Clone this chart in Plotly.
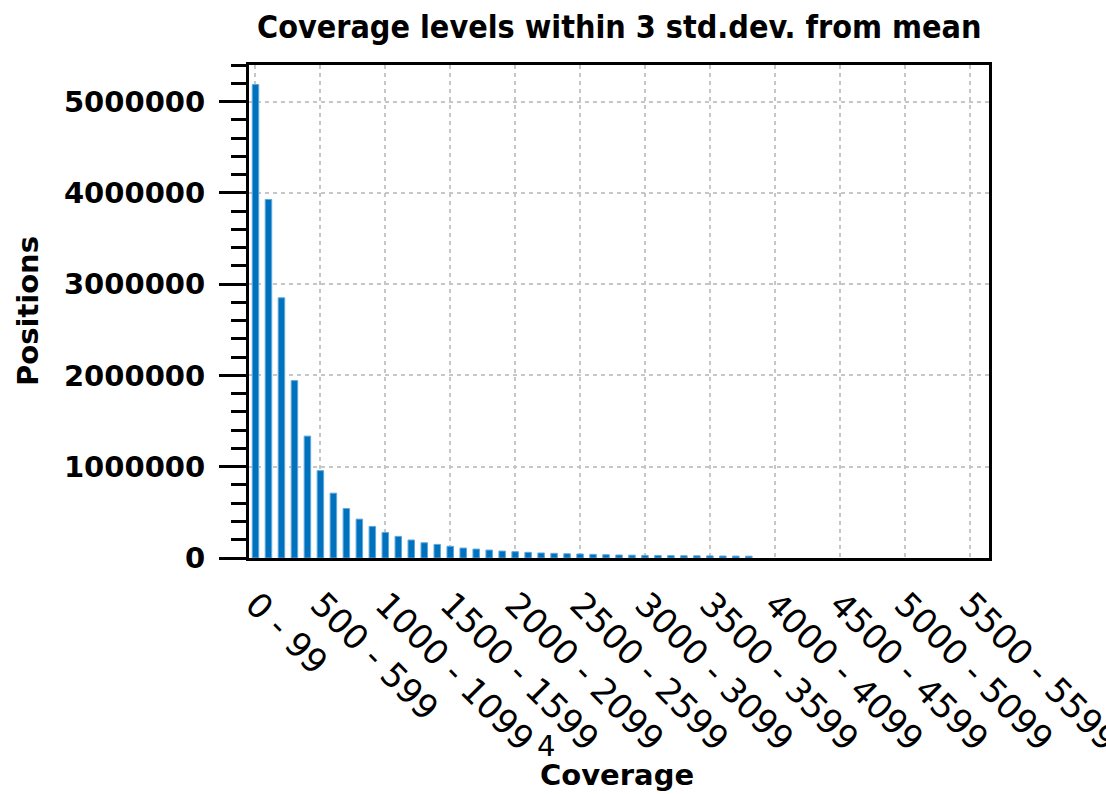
import plotly.graph_objects as go

# Coverage bins (0 - 99, 100 - 199, ... 5600 - 5699)
categories = [f"{i*100} - {i*100+99}" for i in range(57)]
positions = [
    5186000, 3927000, 2850000, 1943000, 1335000, 957000, 710000, 542000, 426000, 346000,
    280000, 237000, 197000, 167000, 149000, 128000, 109000, 98000, 87000, 76000,
    69000, 62000, 55000, 51000, 47000, 44000, 40000, 36000, 33000, 31000,
    29000, 28000, 26000, 25000, 24000, 23000, 22000, 21000, 20000,
]
bar_bins = categories[:len(positions)]
tick_labels = categories[::5]
y_ticks = [0, 1000000, 2000000, 3000000, 4000000, 5000000]

L, R, T, B = 249, 989, 65, 558
W, H = 1106, 794

def px(x):
    return (x - L) / (R - L)

def py(y):
    return (B - y) / (B - T)

fig = go.Figure()
fig.add_trace(go.Bar(
    x=bar_bins, y=positions, width=0.5,
    marker=dict(color="#0072BD", line=dict(color="#5fa8dc", width=1)),
))

grid = dict(showgrid=True, gridcolor="#c6c6c6", gridwidth=2, griddash="4px,4px")
fig.update_layout(
    width=W, height=H,
    margin=dict(l=L, r=W - R, t=T, b=H - B, autoexpand=False),
    plot_bgcolor="white", paper_bgcolor="white",
    showlegend=False,
    font=dict(family="DejaVu Sans", color="black"),
)
fig.update_xaxes(
    type="category", categoryorder="array", categoryarray=categories,
    range=[-0.5, 56.5], automargin=False,
    tickmode="array", tickvals=tick_labels, ticktext=tick_labels,
    tickangle=45, tickfont=dict(size=34, family="DejaVu Sans"),
    ticklabelstandoff=10,
    ticks="", **grid,
    showline=True, linecolor="black", linewidth=3, mirror=True,
)
fig.update_yaxes(
    range=[0, 5400000], tickmode="array", automargin=False,
    tickvals=y_ticks, ticktext=[str(v) for v in y_ticks],
    tickfont=dict(size=29, family="DejaVu Sans", weight="bold"),
    ticks="outside", ticklen=27, tickwidth=3, tickcolor="black",
    ticklabelstandoff=8,
    minor=dict(dtick=200000, tick0=0, ticks="outside", ticklen=15, tickwidth=3,
               tickcolor="black", showgrid=False),
    **grid,
    zeroline=False,
    showline=True, linecolor="black", linewidth=3, mirror=True,
)

fig.add_annotation(text="<b>Coverage levels within 3 std.dev. from mean</b>",
                   xref="paper", yref="paper", x=px(619), y=py(27),
                   showarrow=False, font=dict(size=32, family="DejaVu Sans Condensed"),
                   xanchor="center", yanchor="middle")
fig.add_annotation(text="<b>Coverage</b>", xref="paper", yref="paper",
                   x=px(617), y=py(775), showarrow=False,
                   font=dict(size=29, family="DejaVu Sans"),
                   xanchor="center", yanchor="middle")
fig.add_annotation(text="<b>Positions</b>", xref="paper", yref="paper",
                   x=px(28), y=py(311), showarrow=False, textangle=-90,
                   font=dict(size=29, family="DejaVu Sans"),
                   xanchor="center", yanchor="middle")
fig.add_annotation(text="4", xref="paper", yref="paper",
                   x=px(546), y=py(746), showarrow=False,
                   font=dict(size=29, family="DejaVu Sans"),
                   xanchor="center", yanchor="middle")

fig.write_html("out.html")
